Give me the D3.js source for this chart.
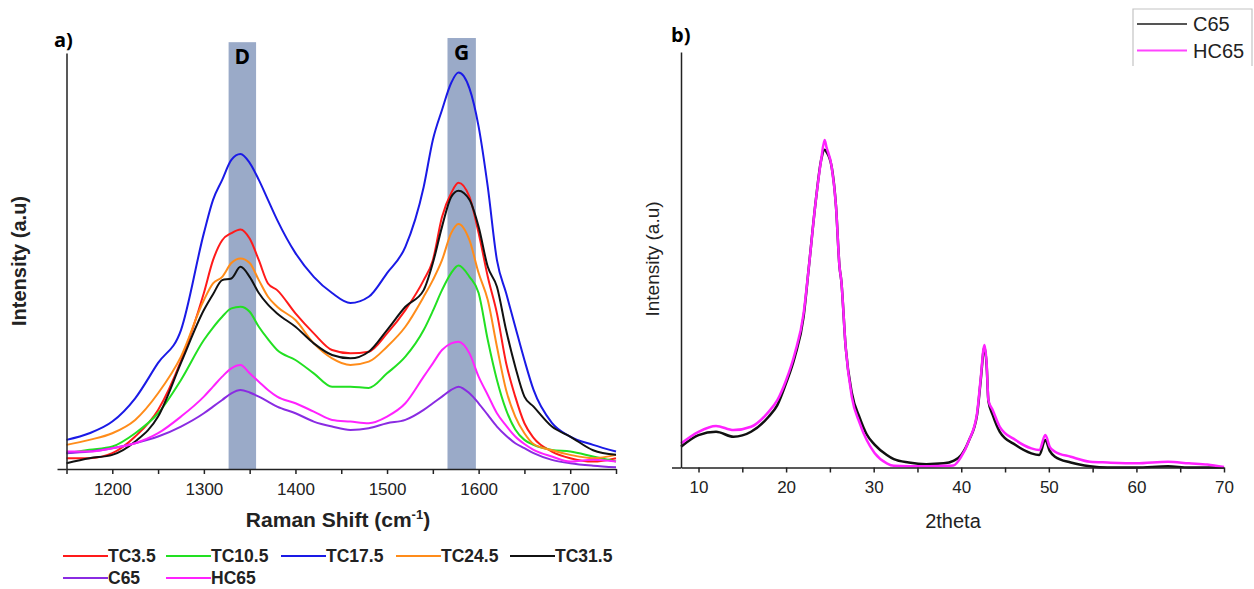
<!DOCTYPE html>
<html lang="en">
<head>
<meta charset="UTF-8">
<title>Raman and XRD</title>
<script src="https://cdn.jsdelivr.net/npm/d3@7"></script>
<style>
  body { margin: 0; background: #fff; }
  svg { display: block; }
</style>
</head>
<body>
<script>

var w = 1254;
var h = 589;

// ---- panel a) Raman spectra (intensity in arbitrary units, axis top = 100)
var ramanShift = [1150, 1175, 1200, 1225, 1250, 1275, 1300, 1310, 1320, 1330, 1340, 1350, 1360, 1370, 1380, 1400, 1420, 1440, 1460, 1480, 1500, 1520, 1540, 1550, 1560, 1570, 1578, 1590, 1600, 1610, 1620, 1630, 1640, 1650, 1660, 1680, 1700, 1725, 1750];

var tc35  = [2.6, 2.6, 3.8, 7.8, 14.2, 26.0, 42.3, 50.2, 55.0, 56.7, 57.6, 55.4, 50.2, 44.6, 43.0, 37.4, 32.6, 28.6, 27.8, 28.2, 32.6, 38.2, 45.4, 50.2, 60.6, 66.3, 68.8, 65.4, 56.7, 46.2, 37.4, 25.5, 17.4, 11.0, 7.5, 4.2, 2.6, 1.8, 2.6];
var tc105 = [3.8, 4.6, 5.4, 8.6, 13.4, 21.4, 31.0, 34.0, 36.6, 38.6, 39.0, 37.8, 34.2, 31.2, 28.6, 26.2, 23.0, 19.8, 19.8, 19.5, 23.0, 27.0, 33.4, 38.0, 43.0, 47.1, 48.9, 46.2, 42.3, 31.0, 21.4, 14.2, 9.5, 7.0, 5.8, 4.6, 4.2, 3.0, 1.8];
var tc175 = [7.0, 8.6, 11.4, 17.0, 25.5, 33.4, 56.7, 64.7, 69.5, 74.3, 75.7, 73.6, 69.5, 64.7, 59.9, 51.9, 46.2, 42.3, 39.9, 41.4, 47.1, 53.4, 67.8, 79.1, 86.3, 92.8, 95.3, 91.5, 82.3, 67.8, 50.2, 42.3, 34.2, 26.2, 19.0, 11.1, 7.8, 5.8, 4.2];
var tc245 = [5.8, 7.0, 8.6, 11.8, 18.2, 27.0, 40.6, 44.6, 46.2, 49.5, 50.6, 49.5, 45.4, 41.4, 39.0, 35.8, 30.2, 26.6, 25.0, 25.8, 29.4, 34.2, 41.4, 45.4, 50.2, 56.7, 58.9, 55.0, 47.1, 40.6, 29.4, 19.0, 12.6, 8.6, 6.0, 4.5, 3.4, 2.6, 3.4];
var tc315 = [1.4, 2.6, 3.4, 6.6, 12.6, 25.5, 38.2, 42.0, 45.4, 45.8, 48.6, 46.2, 42.3, 39.5, 37.4, 34.2, 30.2, 27.4, 26.6, 28.2, 33.4, 39.0, 43.0, 49.5, 58.2, 65.4, 66.9, 64.7, 58.2, 48.6, 43.8, 33.4, 24.6, 17.4, 15.0, 10.2, 7.8, 4.5, 3.4];
var c65r  = [3.8, 4.2, 5.0, 6.2, 7.8, 10.2, 13.4, 15.0, 16.6, 18.2, 19.0, 18.4, 17.4, 16.2, 15.0, 13.4, 11.4, 10.2, 9.4, 9.8, 11.0, 11.8, 14.2, 15.8, 17.4, 19.0, 19.8, 18.2, 15.8, 13.0, 10.2, 8.0, 6.2, 5.0, 3.8, 2.2, 1.4, 0.8, 0.4];
var hc65r = [4.2, 4.2, 5.0, 6.2, 8.6, 12.6, 17.4, 19.8, 22.2, 24.2, 25.0, 23.0, 21.0, 19.0, 17.4, 15.8, 13.8, 11.8, 11.4, 11.0, 12.6, 15.8, 22.2, 25.4, 28.6, 30.2, 30.6, 27.8, 22.2, 17.8, 13.4, 10.4, 7.8, 6.0, 4.6, 3.0, 1.8, 2.2, 1.8];

var ramanNames  = ["TC3.5", "TC10.5", "TC17.5", "TC24.5", "TC31.5", "C65", "HC65"];
var ramanColors = ["#ff1a1a", "#22e022", "#1a1ae6", "#ff8c1a", "#111111", "#8a2be2", "#ff22ff"];
var ramanSeries = [tc35, tc105, tc175, tc245, tc315, c65r, hc65r];

var bandNames = ["D", "G"];
var bandFrom  = [1327, 1566];
var bandTo    = [1357, 1597];
var bandTop   = [102.6, 103.6];

var ramanTicks = [1200, 1300, 1400, 1500, 1600, 1700];

// ---- panel b) XRD patterns
var twoTheta = [8, 10, 12, 14, 16, 18, 19, 20, 21, 22, 22.6, 23.4, 24.0, 24.4, 24.6, 25.2, 25.7, 26.1, 26.3, 26.8, 27.5, 28.4, 29.2, 30.1, 31.5, 32.3, 34, 36, 38, 39.1, 40, 40.9, 41.8, 42.2, 42.65, 42.9, 43.1, 43.6, 44.4, 46.2, 48, 48.9, 49.6, 50.1, 50.7, 52.5, 54.7, 56.7, 60, 63.6, 66, 68.1, 70];
var xrdC65  = [5.0, 7.8, 8.6, 7.4, 8.6, 12.2, 15.0, 20.3, 26.7, 36.3, 48.3, 64.4, 74.0, 76.5, 76.0, 72.4, 62.8, 48.3, 45.0, 29.0, 18.0, 12.0, 8.0, 5.5, 3.0, 2.0, 1.2, 0.8, 1.0, 1.6, 3.0, 6.6, 12.6, 20.5, 29.0, 24.5, 16.0, 12.6, 8.6, 5.4, 3.4, 3.0, 6.6, 4.0, 2.6, 1.2, 0.3, 0.0, 0.0, 0.3, 0.0, 0.0, 0.0];
var xrdHC65 = [5.8, 8.6, 10.0, 9.0, 9.8, 13.4, 16.2, 21.0, 27.5, 37.1, 48.3, 64.4, 74.0, 78.8, 77.2, 72.4, 62.8, 48.3, 45.0, 29.0, 17.0, 10.7, 6.6, 3.5, 1.0, 0.4, 0.3, 0.3, 0.4, 0.5, 2.6, 6.6, 13.0, 21.0, 29.5, 25.0, 16.2, 13.8, 9.8, 6.6, 4.6, 4.2, 7.8, 5.0, 3.8, 2.6, 1.4, 1.2, 1.0, 1.4, 1.0, 0.7, 0.1];
var xrdNames  = ["C65", "HC65"];
var xrdColors = ["#111111", "#ff22ff"];
var xrdSeries = [xrdC65, xrdHC65];
var xrdTicks  = [10, 20, 30, 40, 50, 60, 70];

var svg = d3.select("body")
    .append("svg")
    .attr("width", w)
    .attr("height", h);

var boldFont = "'Liberation Sans', Arial, sans-serif";
var labelFont = "'Open Sans', sans-serif";

// ================= panel a =================
var xa = d3.scaleLinear().domain([1150, 1750]).range([66.5, 616]);
var ya = d3.scaleLinear().domain([0, 100]).range([469, 53]);

var ga = svg.append("g");

ga.selectAll("rect.band")
    .data(bandNames)
    .enter()
    .append("rect")
    .attr("class", "band")
    .attr("x", function(d, i) { return xa(bandFrom[i]); })
    .attr("width", function(d, i) { return xa(bandTo[i]) - xa(bandFrom[i]); })
    .attr("y", function(d, i) { return ya(bandTop[i]); })
    .attr("height", function(d, i) { return ya(0) - ya(bandTop[i]); })
    .attr("fill", "#9aaac8");

ga.selectAll("text.band")
    .data(bandNames)
    .enter()
    .append("text")
    .attr("class", "band")
    .attr("x", function(d, i) { return (xa(bandFrom[i]) + xa(bandTo[i])) / 2; })
    .attr("y", function(d, i) { return ya(bandTop[i]) + 22; })
    .attr("text-anchor", "middle")
    .attr("font-family", labelFont)
    .attr("font-weight", "bold")
    .attr("font-size", "21px")
    .text(function(d) { return d; });

var lineA = d3.line()
    .curve(d3.curveMonotoneX)
    .x(function(d, i) { return xa(ramanShift[i]); })
    .y(function(d) { return ya(d); });

ga.selectAll("path.spec")
    .data(ramanSeries)
    .enter()
    .append("path")
    .attr("class", "spec")
    .attr("d", lineA)
    .attr("fill", "none")
    .attr("stroke", function(d, i) { return ramanColors[i]; })
    .attr("stroke-width", 2)
    .attr("stroke-linejoin", "round");

var axA = ga.append("g")
    .attr("transform", "translate(0," + ya(0) + ")")
    .call(d3.axisBottom(xa).tickValues(d3.range(1150, 1751, 50)).tickSize(5).tickSizeOuter(0)
        .tickFormat(function(d) { return ramanTicks.indexOf(d) >= 0 ? d : ""; }));

var ayA = ga.append("g")
    .attr("transform", "translate(" + xa(1150) + ",0)")
    .call(d3.axisLeft(ya).tickValues([0]).tickSize(9).tickSizeOuter(0).tickFormat(""));

[axA, ayA].forEach(function(ax) {
    ax.select(".domain").attr("stroke", "#222").attr("stroke-width", 1.5);
    ax.selectAll(".tick line").attr("stroke", "#222").attr("stroke-width", 1.5);
    ax.selectAll(".tick text")
        .attr("font-family", boldFont)
        .attr("font-size", "17px")
        .attr("fill", "#222")
        .attr("dy", "1.05em");
});

ga.append("text")
    .attr("x", 54)
    .attr("y", 47)
    .attr("font-family", labelFont)
    .attr("font-weight", "bold")
    .attr("font-size", "20px")
    .text("a)");

ga.append("text")
    .attr("transform", "translate(26,261) rotate(-90)")
    .attr("text-anchor", "middle")
    .attr("font-family", boldFont)
    .attr("font-weight", "bold")
    .attr("font-size", "20px")
    .attr("fill", "#222")
    .text("Intensity (a.u)");

var tA = ga.append("text")
    .attr("x", 338)
    .attr("y", 527)
    .attr("text-anchor", "middle")
    .attr("font-family", boldFont)
    .attr("font-weight", "bold")
    .attr("font-size", "21px")
    .attr("fill", "#222");
tA.append("tspan").text("Raman Shift (cm");
tA.append("tspan").attr("font-size", "13px").attr("dy", "-8").text("-1");
tA.append("tspan").attr("dy", "8").text(")");

// legend below panel a
var legX = [63, 166, 281, 396, 510, 63, 166];
var legY = [556, 556, 556, 556, 556, 578, 578];

var legA = ga.selectAll("g.leg")
    .data(ramanNames)
    .enter()
    .append("g")
    .attr("class", "leg")
    .attr("transform", function(d, i) { return "translate(" + legX[i] + "," + legY[i] + ")"; });

legA.append("line")
    .attr("x1", 0).attr("x2", 45)
    .attr("stroke", function(d, i) { return ramanColors[i]; })
    .attr("stroke-width", 2);

legA.append("text")
    .attr("x", 45)
    .attr("y", 6)
    .attr("font-family", boldFont)
    .attr("font-weight", "bold")
    .attr("font-size", "17.5px")
    .attr("fill", "#222")
    .text(function(d) { return d; });

// ================= panel b =================
var xb = d3.scaleLinear().domain([8, 70]).range([681, 1224]);
var yb = d3.scaleLinear().domain([0, 100]).range([467.5, 52]);

var gb = svg.append("g");

var lineB = d3.line()
    .curve(d3.curveMonotoneX)
    .x(function(d, i) { return xb(twoTheta[i]); })
    .y(function(d) { return yb(d); });

gb.selectAll("path.xrd")
    .data(xrdSeries)
    .enter()
    .append("path")
    .attr("class", "xrd")
    .attr("d", lineB)
    .attr("fill", "none")
    .attr("stroke", function(d, i) { return xrdColors[i]; })
    .attr("stroke-width", 2.5)
    .attr("stroke-linejoin", "round");

var axB = gb.append("g")
    .attr("transform", "translate(0," + yb(0) + ")")
    .call(d3.axisBottom(xb).tickValues(d3.range(10, 71, 5)).tickSize(5).tickSizeOuter(0)
        .tickFormat(function(d) { return xrdTicks.indexOf(d) >= 0 ? d : ""; }));

var ayB = gb.append("g")
    .attr("transform", "translate(" + xb(8) + ",0)")
    .call(d3.axisLeft(yb).tickValues([0]).tickSize(9).tickSizeOuter(0).tickFormat(""));

[axB, ayB].forEach(function(ax) {
    ax.select(".domain").attr("stroke", "#222").attr("stroke-width", 1.5);
    ax.selectAll(".tick line").attr("stroke", "#222").attr("stroke-width", 1.5);
    ax.selectAll(".tick text")
        .attr("font-family", boldFont)
        .attr("font-size", "17px")
        .attr("fill", "#222")
        .attr("dy", "1.05em");
});

gb.append("text")
    .attr("x", 671)
    .attr("y", 42)
    .attr("font-family", labelFont)
    .attr("font-weight", "bold")
    .attr("font-size", "20px")
    .text("b)");

gb.append("text")
    .attr("transform", "translate(659,259) rotate(-90)")
    .attr("text-anchor", "middle")
    .attr("font-family", boldFont)
    .attr("font-size", "19px")
    .attr("fill", "#222")
    .text("Intensity (a.u)");

gb.append("text")
    .attr("x", 953)
    .attr("y", 528)
    .attr("text-anchor", "middle")
    .attr("font-family", boldFont)
    .attr("font-size", "20px")
    .attr("fill", "#222")
    .text("2theta");

// legend box, cut at the right edge like the original
gb.append("path")
    .attr("d", "M1133,66V9H1252V66")
    .attr("fill", "none")
    .attr("stroke", "#c4c4c4")
    .attr("stroke-width", 1.2);

var legB = gb.selectAll("g.legb")
    .data(xrdNames)
    .enter()
    .append("g")
    .attr("class", "legb")
    .attr("transform", function(d, i) { return "translate(1137," + (24 + i * 26.5) + ")"; });

legB.append("line")
    .attr("x1", 0).attr("x2", 50)
    .attr("stroke", function(d, i) { return i == 0 ? "#555" : "#ff44ff"; })
    .attr("stroke-width", 2);

legB.append("text")
    .attr("x", 56)
    .attr("y", 7)
    .attr("font-family", boldFont)
    .attr("font-size", "20px")
    .attr("fill", "#222")
    .text(function(d) { return d; });

</script>
</body>
</html>
